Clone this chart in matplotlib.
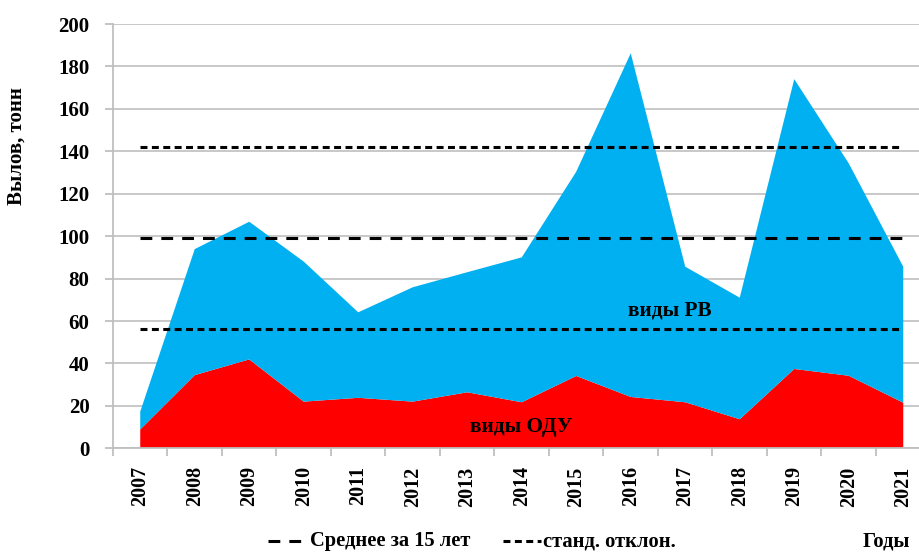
import matplotlib
matplotlib.use("Agg")
import matplotlib.pyplot as plt
import numpy as np
from matplotlib.lines import Line2D

years = ["2007", "2008", "2009", "2010", "2011", "2012", "2013", "2014",
         "2015", "2016", "2017", "2018", "2019", "2020", "2021"]
odu = [8.9, 34.5, 41.9, 22.0, 23.8, 22.0, 26.4, 21.7, 34.1, 24.2, 21.7, 13.7, 37.4, 34.2, 21.5]
rv = [8.4, 59.4, 64.9, 66.0, 40.3, 53.9, 56.6, 68.3, 96.3, 162.0, 63.9, 57.3, 136.6, 100.1, 64.1]
yticks = [0, 20, 40, 60, 80, 100, 120, 140, 160, 180, 200]

plt.rcParams['font.family'] = ['Liberation Serif', 'DejaVu Serif']
plt.rcParams['font.weight'] = 'bold'
plt.rcParams['lines.scale_dashes'] = False

W, H = 920, 552
fig = plt.figure(figsize=(W / 100, H / 100), dpi=100)
left, right, top, bottom = 113, 920, 24, 448.3
ax = fig.add_axes([left / W, 1 - bottom / H, (right - left) / W, (bottom - top) / H])

x = np.arange(len(years))
total = np.array(odu) + np.array(rv)
mean = total.mean()
std = total.std(ddof=1)

ax.stackplot(x, odu, rv, colors=['#FF0000', '#00B0F0'], zorder=2, linewidth=0)

ax.plot([x[0], x[-1]], [mean, mean], color='black', lw=2.2, dashes=(8.5, 6.5), zorder=3)
for v in (mean + std, mean - std):
    ax.plot([x[0], x[-1]], [v, v], color='black', lw=2.2, dashes=(5, 3.2), zorder=3)

ax.set_yticks(yticks)
ax.set_yticklabels([str(t) for t in yticks], fontsize=15, fontweight='bold')
ax.set_xticks(x)
ax.set_xticklabels(years, rotation=90, fontsize=14.5, fontweight='bold')
ax.set_xticks(np.arange(-0.5, len(years) + 0.5, 1), minor=True)
ax.set_xlim(-0.5, -0.5 + (right - left) / 54.5)
ax.set_ylim(0, 200)
ax.tick_params(axis='x', which='major', length=0, pad=13)
ax.tick_params(axis='x', which='minor', length=6, color='#BFBFBF', width=1.3, direction='out')
ax.tick_params(axis='y', length=6, color='#BFBFBF', width=1.3, pad=11, direction='out')

ax.grid(axis='y', color='#C8C8C8', lw=1.4, zorder=0)
ax.set_axisbelow(True)
for s in ['top', 'right']:
    ax.spines[s].set_visible(False)
for s in ['left', 'bottom']:
    ax.spines[s].set_color('#BFBFBF')
    ax.spines[s].set_linewidth(1.3)

ax.text(6.99, 10.2, 'виды ОДУ', ha='center', va='center', fontsize=15.3, fontweight='bold', zorder=4)
ax.text(9.72, 65.0, 'виды РВ', ha='center', va='center', fontsize=15.3, fontweight='bold', zorder=4)

fig.text(17 / W, 1 - 146 / H, 'Вылов, тонн', rotation=90, ha='center', va='center',
         fontsize=15, fontweight='bold')

# legend
ly = 1 - 541 / H
fig.add_artist(Line2D([268 / W, 301 / W], [ly, ly], color='black', lw=2.2, dashes=(8.5, 6.5),
                      transform=fig.transFigure))
fig.text(310 / W, ly, 'Среднее за 15 лет', ha='left', va='center', fontsize=14.8, fontweight='bold')
fig.add_artist(Line2D([503 / W, 541 / W], [ly, ly], color='black', lw=2.2, dashes=(5, 3.2),
                      transform=fig.transFigure))
fig.text(543 / W, ly, 'станд. отклон.', ha='left', va='center', fontsize=14.8, fontweight='bold')
fig.text(863 / W, ly, 'Годы', ha='left', va='center', fontsize=14.8, fontweight='bold')

fig.savefig('out.png', dpi=100)
